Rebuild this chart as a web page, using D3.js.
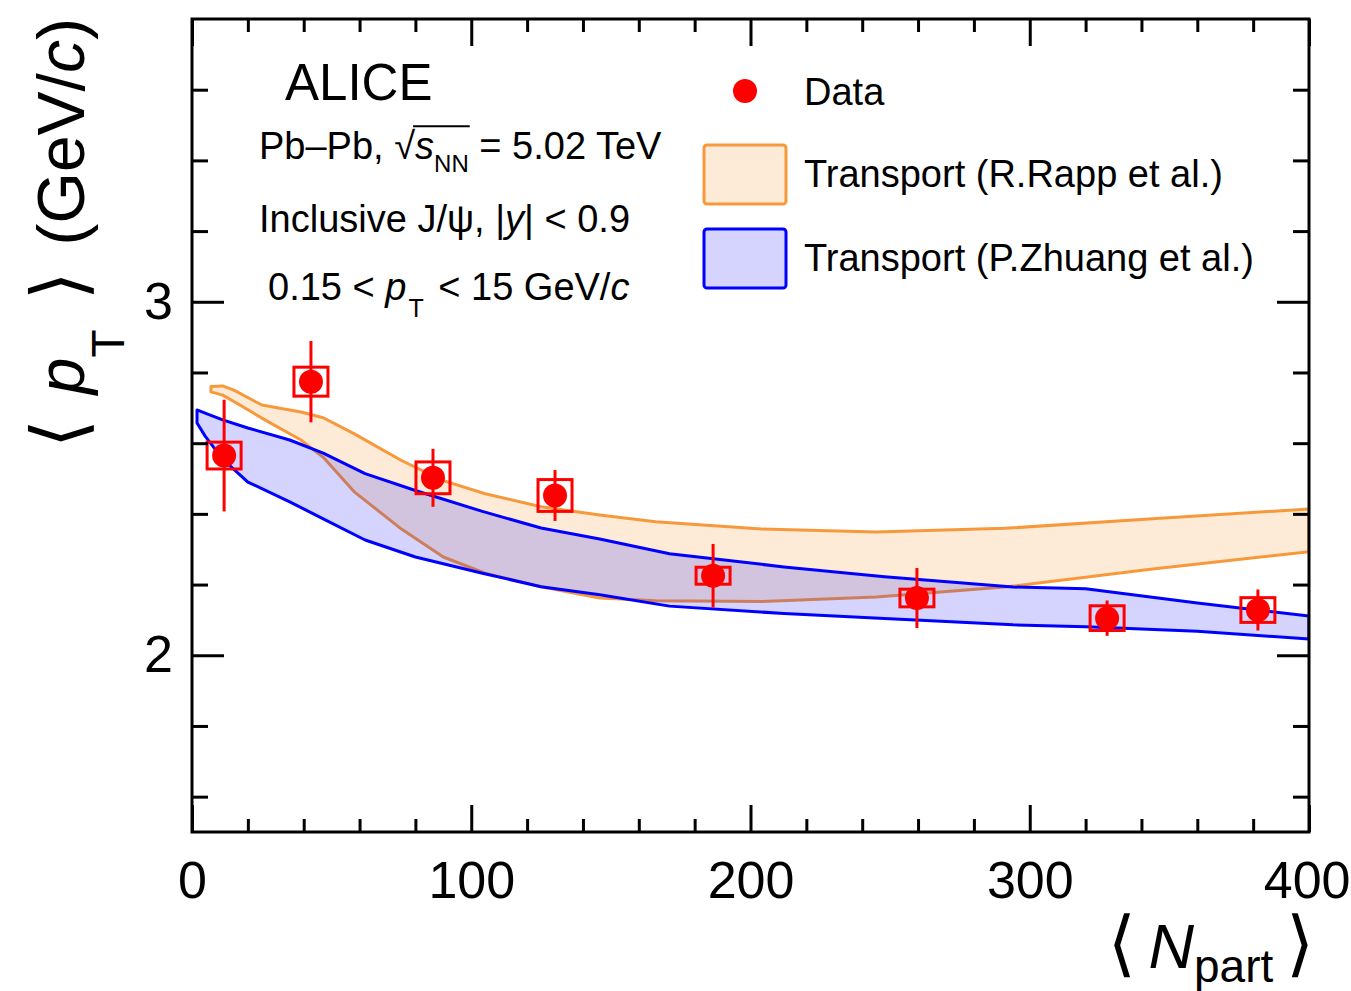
<!DOCTYPE html>
<html>
<head>
<meta charset="utf-8">
<script src="https://cdn.jsdelivr.net/npm/d3@7"></script>
<style>
  body { margin: 0; background: #fff; }
  svg { display: block; }
  text { font-family: "Liberation Sans", Arial, Helvetica, sans-serif; fill: #000; }
</style>
</head>
<body>
<svg id="chart" width="1351" height="991"></svg>
<script>
// Inclusive J/psi <pT> vs <Npart>, Pb-Pb 5.02 TeV, |y| < 0.9
const nPart   = [11.5, 42.6, 86.3, 130.0, 186.6, 259.6, 327.7, 381.7];
const meanPt  = [2.565, 2.774, 2.502, 2.452, 2.225, 2.162, 2.105, 2.128];
const statErr = [0.158, 0.115, 0.082, 0.072, 0.090, 0.085, 0.050, 0.058];
const systErr = [0.038, 0.041, 0.045, 0.045, 0.024, 0.025, 0.035, 0.035];

// Transport model (R. Rapp et al.), band edges
const rappNpart = [6.8, 11, 15, 25, 39, 47, 58, 75, 90, 105, 125, 146, 166, 204, 245, 291, 344, 400];
const rappHigh  = [2.760, 2.762, 2.750, 2.708, 2.688, 2.672, 2.627, 2.551, 2.494, 2.457, 2.420, 2.397, 2.378, 2.357, 2.349, 2.359, 2.386, 2.414];
const rappLow   = [2.745, 2.736, 2.718, 2.671, 2.609, 2.560, 2.463, 2.357, 2.278, 2.232, 2.194, 2.162, 2.154, 2.152, 2.165, 2.193, 2.244, 2.293];

// Transport model (P. Zhuang et al.), band edges
const zhuangNpart = [1.8, 4.7, 11, 20, 35, 47, 62, 80, 104, 125, 146, 171, 212, 248, 294, 320, 360, 400];
const zhuangHigh  = [2.694, 2.685, 2.666, 2.643, 2.609, 2.572, 2.514, 2.466, 2.407, 2.360, 2.329, 2.287, 2.250, 2.222, 2.193, 2.188, 2.148, 2.111];
const zhuangLow   = [2.657, 2.620, 2.555, 2.490, 2.434, 2.386, 2.326, 2.278, 2.232, 2.194, 2.171, 2.139, 2.118, 2.104, 2.086, 2.081, 2.068, 2.046];

// Axis ticks
const xMajorTicks = [0, 100, 200, 300, 400];
const xMinorTicks = [20, 40, 60, 80, 120, 140, 160, 180, 220, 240, 260, 280, 320, 340, 360, 380];
const yMajorTicks = [2, 3];
const yMinorTicks = [1.6, 1.8, 2.2, 2.4, 2.6, 2.8, 3.2, 3.4, 3.6];

const legendLabels = ["Data", "Transport (R.Rapp et al.)", "Transport (P.Zhuang et al.)"];

// ---------------------------------------------------------------
const svg = d3.select("#chart");
const L = 192, R = 1309, T = 19, B = 832;
const x = d3.scaleLinear().domain([0, 400]).range([L, R]);
const y = d3.scaleLinear().domain([1.5, 3.8]).range([B, T]);

const RED = "#ff0000";
const ORANGE = "#f7993b", ORANGE_FILL = "rgba(247,153,59,0.2)";
const BLUE = "#0000ff", BLUE_FILL = "rgba(0,0,255,0.17)";

svg.append("defs").append("clipPath").attr("id", "plotClip")
  .append("rect").attr("x", L).attr("y", T).attr("width", R - L).attr("height", B - T);

const plot = svg.append("g").attr("clip-path", "url(#plotClip)");

function band(ns, hi, lo, stroke, fill) {
  const pts = ns.map((n, i) => ({ n, hi: hi[i], lo: lo[i] }));
  const area = d3.area().x(d => x(d.n)).y0(d => y(d.lo)).y1(d => y(d.hi));
  plot.append("path").attr("d", area(pts)).attr("fill", fill).attr("stroke", "none");
  const outline = pts.map(d => [x(d.n), y(d.hi)])
    .concat(pts.slice().reverse().map(d => [x(d.n), y(d.lo)]));
  plot.append("path").attr("d", d3.line()(outline) + "Z")
    .attr("fill", "none").attr("stroke", stroke).attr("stroke-width", 3)
    .attr("stroke-linejoin", "round");
}
band(rappNpart, rappHigh, rappLow, ORANGE, ORANGE_FILL);
band(zhuangNpart, zhuangHigh, zhuangLow, BLUE, BLUE_FILL);

// Data: systematic boxes, statistical bars, markers
const data = nPart.map((n, i) => ({ n, v: meanPt[i], s: statErr[i], sy: systErr[i] }));
const boxHalf = 17;
plot.selectAll(".sys").data(data).join("rect")
  .attr("x", d => x(d.n) - boxHalf).attr("width", 2 * boxHalf)
  .attr("y", d => y(d.v + d.sy)).attr("height", d => y(d.v - d.sy) - y(d.v + d.sy))
  .attr("fill", "none").attr("stroke", RED).attr("stroke-width", 3);
plot.selectAll(".stat").data(data).join("line")
  .attr("x1", d => x(d.n)).attr("x2", d => x(d.n))
  .attr("y1", d => y(d.v + d.s)).attr("y2", d => y(d.v - d.s))
  .attr("stroke", RED).attr("stroke-width", 3);
plot.selectAll(".pt").data(data).join("circle")
  .attr("cx", d => x(d.n)).attr("cy", d => y(d.v)).attr("r", 12).attr("fill", RED);

// Axes with inward ticks on all four sides
function styleAxis(g, fs) {
  g.select(".domain").remove();
  g.selectAll(".tick line").attr("stroke", "#000").attr("stroke-width", 3);
  g.attr("font-size", fs).attr("font-family", null);
  g.selectAll("text").attr("fill", "#000");
}
svg.append("g").attr("transform", `translate(0,${B})`)
  .call(d3.axisBottom(x).tickValues(xMajorTicks).tickSize(-27).tickPadding(29).tickFormat(d3.format("d")))
  .call(g => styleAxis(g, 52))
  // keep the last label inside the page edge
  .call(g => g.selectAll(".tick text").filter(d => d === 400).attr("text-anchor", "end").attr("x", 41));
svg.append("g").attr("transform", `translate(0,${B})`)
  .call(d3.axisBottom(x).tickValues(xMinorTicks).tickSize(-13).tickFormat(""))
  .call(g => styleAxis(g, 10));
svg.append("g").attr("transform", `translate(0,${T})`)
  .call(d3.axisTop(x).tickValues(xMajorTicks).tickSize(-27).tickFormat(""))
  .call(g => styleAxis(g, 10));
svg.append("g").attr("transform", `translate(0,${T})`)
  .call(d3.axisTop(x).tickValues(xMinorTicks).tickSize(-13).tickFormat(""))
  .call(g => styleAxis(g, 10));
svg.append("g").attr("transform", `translate(${L},0)`)
  .call(d3.axisLeft(y).tickValues(yMajorTicks).tickSize(-32).tickPadding(19).tickFormat(d3.format("d")))
  .call(g => styleAxis(g, 52));
svg.append("g").attr("transform", `translate(${L},0)`)
  .call(d3.axisLeft(y).tickValues(yMinorTicks).tickSize(-16).tickFormat(""))
  .call(g => styleAxis(g, 10));
svg.append("g").attr("transform", `translate(${R},0)`)
  .call(d3.axisRight(y).tickValues(yMajorTicks).tickSize(-32).tickFormat(""))
  .call(g => styleAxis(g, 10));
svg.append("g").attr("transform", `translate(${R},0)`)
  .call(d3.axisRight(y).tickValues(yMinorTicks).tickSize(-16).tickFormat(""))
  .call(g => styleAxis(g, 10));

svg.append("rect").attr("x", L).attr("y", T).attr("width", R - L).attr("height", B - T)
  .attr("fill", "none").attr("stroke", "#000").attr("stroke-width", 3);

// Axis titles
const BR = "DejaVu Sans";
const yt = svg.append("text").attr("transform", "translate(84,448) rotate(-90)")
  .attr("text-anchor", "start").attr("font-size", 66);
yt.append("tspan").attr("font-family", BR).attr("font-size", 74).text("\u27E8");
yt.append("tspan").attr("dx", 25).attr("font-style", "italic").text("p");
yt.append("tspan").attr("font-size", 46).attr("dy", 40).text("T");
yt.append("tspan").attr("dy", -40).attr("dx", 29).attr("font-family", BR).attr("font-size", 74).text("\u27E9");
yt.append("tspan").attr("dx", 26).text("(GeV/");
yt.append("tspan").attr("font-style", "italic").text("c");
yt.append("tspan").text(")");

const xt = svg.append("text").attr("x", 1314).attr("y", 968)
  .attr("text-anchor", "end").attr("font-size", 63);
xt.append("tspan").attr("font-family", BR).attr("font-size", 72).text("\u27E8");
xt.append("tspan").text("\u2009");
xt.append("tspan").attr("font-style", "italic").text("N");
xt.append("tspan").attr("font-size", 46).attr("dy", 14).text("part");
xt.append("tspan").attr("dy", -14).text("\u2009");
xt.append("tspan").attr("font-family", BR).attr("font-size", 72).text("\u27E9");

// Labels
svg.append("text").attr("x", 285).attr("y", 100).attr("font-size", 51).text("ALICE");

const l1 = svg.append("text").attr("x", 259).attr("y", 159).attr("font-size", 38);
l1.append("tspan").text("Pb\u2013Pb, ");
l1.append("tspan").text("\u221A");
l1.append("tspan").attr("font-style", "italic").text("s");
l1.append("tspan").attr("font-size", 24).attr("dy", 13).text("NN");
l1.append("tspan").attr("dy", -13).text(" = 5.02 TeV");
{
  const node = l1.node();
  const sq = node.getExtentOfChar(7);
  const nn = node.getExtentOfChar(10);
  const yTop = 159 - 0.86 * 38;
  svg.append("line")
    .attr("x1", sq.x + sq.width - 2).attr("x2", nn.x + nn.width + 1)
    .attr("y1", yTop).attr("y2", yTop)
    .attr("stroke", "#000").attr("stroke-width", 2);
}

const l2 = svg.append("text").attr("x", 259).attr("y", 232).attr("font-size", 38);
l2.append("tspan").text("Inclusive J/\u03C8, |");
l2.append("tspan").attr("font-style", "italic").text("y");
l2.append("tspan").text("| < 0.9");

const l3 = svg.append("text").attr("x", 268).attr("y", 300).attr("font-size", 38);
l3.append("tspan").text("0.15 < ");
l3.append("tspan").attr("font-style", "italic").text("p");
l3.append("tspan").attr("font-size", 25).attr("dy", 17).attr("dx", 2).text("T");
l3.append("tspan").attr("dy", -17).attr("dx", 4).text(" < 15 GeV/");
l3.append("tspan").attr("font-style", "italic").text("c");

// Legend
const lg = svg.append("g");
lg.append("circle").attr("cx", 745).attr("cy", 91).attr("r", 12).attr("fill", RED);
lg.append("rect").attr("x", 704).attr("y", 145).attr("width", 82).attr("height", 59).attr("rx", 3)
  .attr("fill", ORANGE_FILL).attr("stroke", ORANGE).attr("stroke-width", 3);
lg.append("rect").attr("x", 704).attr("y", 229).attr("width", 82).attr("height", 59).attr("rx", 3)
  .attr("fill", BLUE_FILL).attr("stroke", BLUE).attr("stroke-width", 3);
const legendY = [105, 187, 271];
legendLabels.forEach((t, i) => {
  lg.append("text").attr("x", 804).attr("y", legendY[i]).attr("font-size", 38).text(t);
});
</script>
</body>
</html>
